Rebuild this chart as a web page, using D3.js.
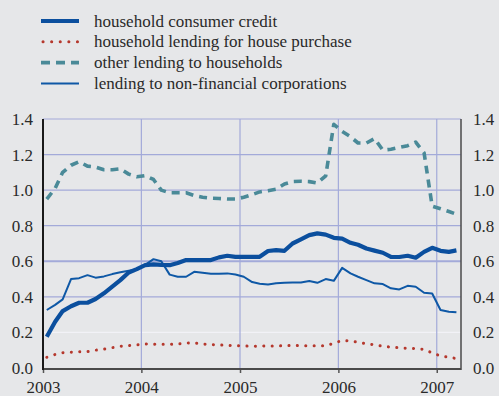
<!DOCTYPE html>
<html>
<head>
<meta charset="utf-8">
<script src="https://cdn.jsdelivr.net/npm/d3@7/dist/d3.min.js"></script>
<style>
  @font-face { font-family: "ChartSerif"; src: local("Liberation Serif"), local("LiberationSerif"), local("Times New Roman"); }
  html, body { margin: 0; padding: 0; background: #e6e7e9; }
  svg { display: block; }
</style>
</head>
<body>
<svg id="chart" width="499" height="396" font-family="Liberation Serif"></svg>
<script>
// ---- data ----
const months = [
  "2003-01","2003-02","2003-03","2003-04","2003-05","2003-06","2003-07","2003-08","2003-09","2003-10","2003-11","2003-12",
  "2004-01","2004-02","2004-03","2004-04","2004-05","2004-06","2004-07","2004-08","2004-09","2004-10","2004-11","2004-12",
  "2005-01","2005-02","2005-03","2005-04","2005-05","2005-06","2005-07","2005-08","2005-09","2005-10","2005-11","2005-12",
  "2006-01","2006-02","2006-03","2006-04","2006-05","2006-06","2006-07","2006-08","2006-09","2006-10","2006-11","2006-12",
  "2007-01","2007-02","2007-03"
];
const consumerCredit = [
  0.176,0.26,0.32,0.347,0.367,0.367,0.388,0.42,0.457,0.494,0.537,0.556,
  0.578,0.583,0.58,0.578,0.59,0.607,0.607,0.607,0.607,0.622,0.631,0.625,
  0.625,0.625,0.625,0.658,0.663,0.659,0.70,0.723,0.747,0.757,0.75,0.732,
  0.727,0.704,0.693,0.672,0.66,0.648,0.625,0.624,0.631,0.62,0.653,0.676,
  0.659,0.653,0.661
];
const housePurchase = [
  0.060,0.076,0.086,0.089,0.091,0.092,0.100,0.106,0.114,0.122,0.126,0.130,
  0.135,0.134,0.133,0.133,0.135,0.140,0.141,0.135,0.132,0.130,0.127,0.125,
  0.124,0.122,0.123,0.124,0.124,0.125,0.127,0.125,0.125,0.125,0.125,0.139,
  0.155,0.152,0.145,0.136,0.131,0.123,0.117,0.114,0.110,0.109,0.105,0.085,
  0.068,0.061,0.053
];
const otherLending = [
  0.95,1.01,1.10,1.14,1.16,1.135,1.13,1.115,1.115,1.12,1.09,1.075,
  1.082,1.06,1.0,0.985,0.985,0.985,0.97,0.96,0.955,0.953,0.95,0.95,
  0.96,0.975,0.99,0.997,1.005,1.035,1.048,1.05,1.048,1.04,1.08,1.37,
  1.33,1.30,1.265,1.265,1.29,1.225,1.23,1.24,1.25,1.27,1.21,0.91,
  0.895,0.88,0.865
];
const corporations = [
  0.326,0.355,0.386,0.50,0.505,0.522,0.508,0.515,0.528,0.538,0.547,0.552,
  0.58,0.612,0.60,0.525,0.513,0.513,0.541,0.535,0.53,0.53,0.532,0.526,
  0.513,0.483,0.474,0.470,0.476,0.479,0.481,0.481,0.489,0.479,0.50,0.49,
  0.563,0.532,0.513,0.494,0.476,0.472,0.448,0.442,0.462,0.457,0.423,0.419,
  0.326,0.316,0.313
];
const yTicks = [0.0, 0.2, 0.4, 0.6, 0.8, 1.0, 1.2, 1.4];
const xTickYears = ["2003","2004","2005","2006","2007"];
const seriesNames = [
  "household consumer credit",
  "household lending for house purchase",
  "other lending to households",
  "lending to non-financial corporations"
];

(function () {
const TXT = "#2a2a2a";
function serif(sel) {
  sel.attr("font-family", "Liberation Serif").style("font-family", "'Liberation Serif'");
  return sel;
}
// ---- layout ----
const svg = d3.select("#chart");
const W = 499, H = 396;
svg.append("rect").attr("width", W).attr("height", H).attr("fill", "#e6e7e9");

const pLeft = 43, pRight = 461, pTop = 119, pBottom = 368;
const parseMonth = d3.utcParse("%Y-%m");
const dates = months.map(m => d3.utcDay.offset(parseMonth(m), 14));
const x = d3.scaleUtc()
  .domain([Date.UTC(2003, 0, 1), Date.UTC(2007, 3, 1)])
  .range([pLeft, pRight]);
const y = d3.scaleLinear().domain([0, 1.4]).range([pBottom, pTop]);

const gridColor = "#a3aad9";
svg.append("g").selectAll("line")
  .data(yTicks.filter(v => v > 0))
  .join("line")
  .attr("x1", pLeft).attr("x2", pRight)
  .attr("y1", d => y(d)).attr("y2", d => y(d))
  .attr("stroke", d => Math.abs(d - 0.2) < 1e-9 ? "#f2f2f7" : gridColor)
  .attr("stroke-width", d => Math.abs(d - 0.6) < 1e-9 ? 2 : 1.2);

const yearDates = xTickYears.map(s => d3.utcParse("%Y")(s));
svg.append("g").selectAll("line")
  .data(yearDates.slice(1))
  .join("line")
  .attr("x1", d => x(d)).attr("x2", d => x(d))
  .attr("y1", pTop).attr("y2", pBottom)
  .attr("stroke", gridColor).attr("stroke-width", 1.2);

// axes
const yLeft = d3.axisLeft(y).tickValues(yTicks).tickFormat(d3.format(".1f")).tickSize(0).tickPadding(10);
const yRight = d3.axisRight(y).tickValues(yTicks).tickFormat(d3.format(".1f")).tickSize(0).tickPadding(12);
const gL = svg.append("g").attr("transform", `translate(${pLeft},0)`).call(yLeft);
const gR = svg.append("g").attr("transform", `translate(${pRight},0)`).call(yRight);
[gL, gR].forEach(g => {
  serif(g).attr("font-size", 17);
  g.select(".domain").remove();
  serif(g.selectAll("text")).style("font-size", "17px").attr("fill", TXT);
});

const xAxis = d3.axisBottom(x).tickValues(yearDates).tickFormat(d3.utcFormat("%Y")).tickSize(4).tickPadding(8);
const gX = svg.append("g").attr("transform", `translate(0,${pBottom + 1})`).call(xAxis);
serif(gX).attr("font-size", 17);
gX.select(".domain").remove();
gX.selectAll(".tick line").attr("stroke", "#555").attr("stroke-width", 1.5);
serif(gX.selectAll("text")).style("font-size", "17px").attr("fill", TXT);

// frame lines
svg.append("line").attr("x1", pLeft).attr("x2", pRight).attr("y1", pBottom + 1).attr("y2", pBottom + 1)
  .attr("stroke", "#4a4a4a").attr("stroke-width", 2);
svg.append("line").attr("x1", pLeft).attr("x2", pLeft).attr("y1", pTop).attr("y2", pBottom + 2)
  .attr("stroke", "#1a1a1a").attr("stroke-width", 2);
svg.append("line").attr("x1", pRight).attr("x2", pRight).attr("y1", pTop).attr("y2", pBottom + 2)
  .attr("stroke", "#4a4a4a").attr("stroke-width", 1.5);

// series
const line = d3.line().x((d, i) => x(dates[i])).y(d => y(d));
const styles = [
  { data: consumerCredit, color: "#0b4f9e", width: 4.2, dash: null, cap: "butt" },
  { data: housePurchase, color: "#b5382d", width: 3, dash: "0.1,8.3", cap: "round" },
  { data: otherLending, color: "#4a8a98", width: 3.6, dash: "8,6", cap: "butt" },
  { data: corporations, color: "#0e58a6", width: 2, dash: null, cap: "butt" }
];
const drawOrder = [2, 1, 3, 0];
drawOrder.forEach(k => {
  const s = styles[k];
  svg.append("path")
    .datum(s.data)
    .attr("d", line)
    .attr("fill", "none")
    .attr("stroke", s.color)
    .attr("stroke-width", s.width)
    .attr("stroke-linejoin", "round")
    .attr("stroke-linecap", s.cap)
    .attr("stroke-dasharray", s.dash);
});

// legend
const leg = svg.append("g");
seriesNames.forEach((name, i) => {
  const s = styles[i];
  const cy = 21 + i * 20.8;
  leg.append("line")
    .attr("x1", s.cap === "round" ? 43 : 41).attr("x2", 79)
    .attr("y1", cy).attr("y2", cy)
    .attr("stroke", s.color)
    .attr("stroke-width", i === 0 ? 4 : (i === 2 ? 3.6 : (i === 1 ? 3 : 2)))
    .attr("stroke-linecap", s.cap)
    .attr("stroke-dasharray", i === 1 ? "0.1,8.5" : (i === 2 ? "9,6" : null));
  serif(leg.append("text"))
    .attr("x", 94).attr("y", cy).attr("dy", "0.33em")
    .style("font-size", "17px")
    .attr("fill", TXT)
    .text(name);
});
})();
</script>
</body>
</html>
